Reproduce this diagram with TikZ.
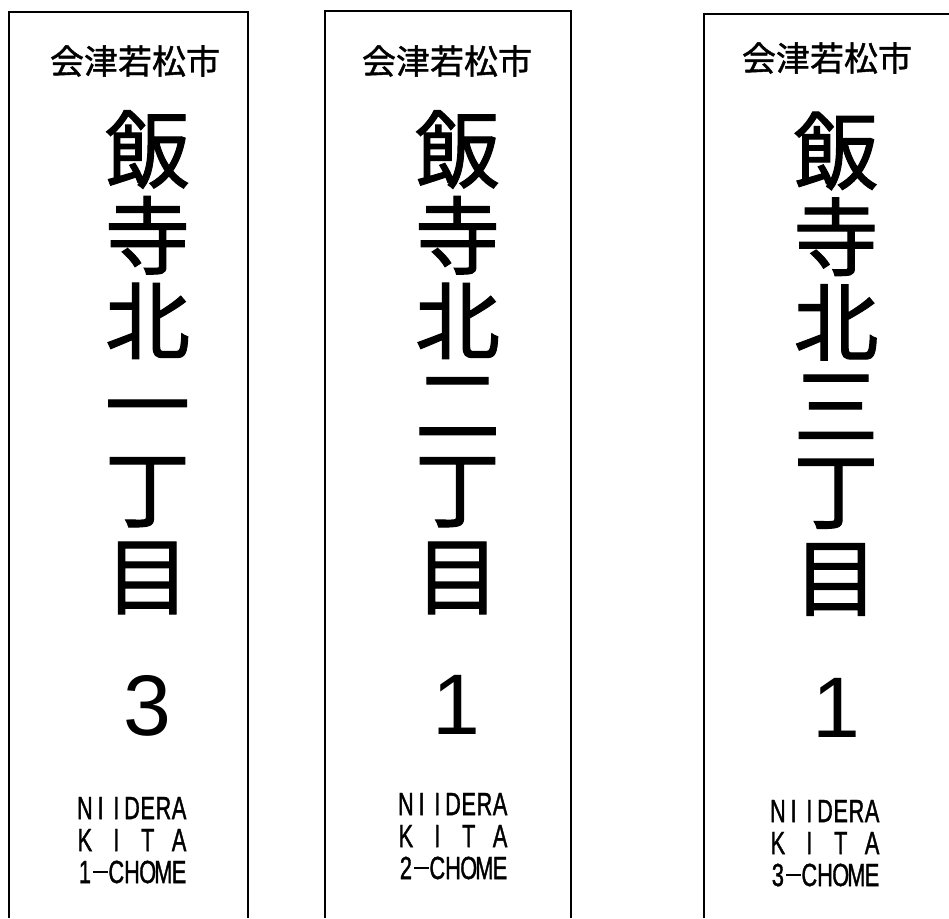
\documentclass[tikz,border=0pt]{standalone}
\usepackage{fontspec}
\usepackage{graphicx}
\setmainfont{Liberation Sans}
\newfontfamily\jpfont[FakeBold=1.2]{Noto Sans CJK JP}
\newfontfamily\romafont[FakeBold=1.5]{Liberation Sans}
\newcommand\mcell[1]{\makebox[15.7pt][c]{\scalebox{0.68}[1]{#1}}}
\newcommand\mdash{\makebox[15.7pt][c]{\rule[10pt]{14.5pt}{2.5pt}}}
\def\monostr#1{\monoloop#1\relax}
\def\monoloop#1{\ifx\relax#1\else\mcell{#1}\expandafter\monoloop\fi}
\tikzset{
  frame/.style={draw=black, line width=2pt, line join=miter},
  city/.style={inner sep=0pt, font=\jpfont\fontsize{34}{34}\selectfont},
  big/.style={inner sep=0pt, font=\jpfont\fontsize{85}{85}\selectfont},
  num/.style={inner sep=0pt, font=\fontsize{86}{86}\selectfont},
  roma/.style={inner sep=0pt, anchor=base, font=\romafont\fontsize{32}{32}\selectfont},
}
\begin{document}
\begin{tikzpicture}[x=1pt,y=-1pt]
\useasboundingbox (0,0) rectangle (949,918);
\fill[white] (0,0) rectangle (949,918);
% frames
\draw[frame] (9,918) -- (9,12) -- (248,12) -- (248,918);
\draw[frame] (325,918) -- (325,11) -- (571,11) -- (571,918);
\draw[frame] (704,918) -- (704,14) -- (949,14);
% city names
\node[city] (c1) at (135,61) {会津若松市};
\node[city] (c2) at (447,61) {会津若松市};
\node[city] (c3) at (827,58) {会津若松市};
% big vertical names
\foreach \ch [count=\i from 0] in {飯,寺,北,{\vphantom{目}一},丁,目}
  \node[big] (a\i) at (147.5,{149.5+85.7*\i}) {\ch};
\foreach \ch [count=\i from 0] in {飯,寺,北,{\vphantom{目}二},丁,目}
  \node[big] (b\i) at (457.5,{149.5+85.7*\i}) {\ch};
\foreach \ch [count=\i from 0] in {飯,寺,北,{\vphantom{目}三},丁,目}
  \node[big] (d\i) at (836,{151+85.7*\i}) {\ch};
% numbers
\node[num] (n1) at (147,706) {3};
\node[num] (n2) at (456,704.5) {1};
\node[num] (n3) at (836,707.5) {1};
% romaji
\node[roma] (r1a) at (132,819) {\monostr{NIIDERA}};
\node[roma] (r1b) at (132,851) {\monostr{K~I~T~A}};
\node[roma] (r1c) at (132,883) {\monostr{1}\mdash\monostr{CHOME}};
\node[roma] (r2a) at (453,815) {\monostr{NIIDERA}};
\node[roma] (r2b) at (453,847) {\monostr{K~I~T~A}};
\node[roma] (r2c) at (453,879) {\monostr{2}\mdash\monostr{CHOME}};
\node[roma] (r3a) at (825,822) {\monostr{NIIDERA}};
\node[roma] (r3b) at (825,854) {\monostr{K~I~T~A}};
\node[roma] (r3c) at (825,886) {\monostr{3}\mdash\monostr{CHOME}};
\end{tikzpicture}
\end{document}
